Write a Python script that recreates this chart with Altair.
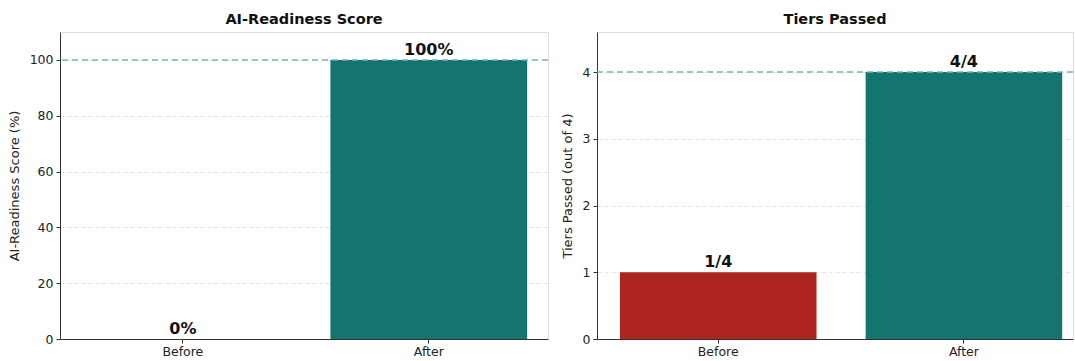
import altair as alt
import pandas as pd

categories = ["Before", "After"]
scores = [0, 100]
score_labels = ["0%", "100%"]
tiers = [1, 4]
tier_labels = ["1/4", "4/4"]
colors = ["#ad2320", "#137470"]
score_target = [100]
tier_target = [4]

FONT = "DejaVu Sans"

df_s = pd.DataFrame({"cat": categories, "val": scores, "lab": score_labels, "col": colors})
df_t = pd.DataFrame({"cat": categories, "val": tiers, "lab": tier_labels, "col": colors})


def panel(df, target, title, ytitle, domain, ticks, width, pad_outer, align):
    xs = alt.X("cat:N", sort=categories, title=None,
               scale=alt.Scale(paddingInner=0.2, paddingOuter=pad_outer, align=align),
               axis=alt.Axis(labelAngle=0, labelFontSize=12.5, labelColor="#222",
                             labelFont=FONT, tickSize=4, tickColor="#333",
                             domainColor="#333", labelPadding=2))
    ys = alt.Y("val:Q", title=ytitle,
               scale=alt.Scale(domain=domain, nice=False, zero=True),
               axis=alt.Axis(values=ticks, format="d", labelFontSize=12.5, labelColor="#222",
                             labelFont=FONT, titleFont=FONT, titleFontSize=13,
                             titleFontWeight="normal", titleColor="#222",
                             tickSize=4, tickColor="#333", domainColor="#333",
                             grid=True, gridDash=[4, 3], gridColor="#e4e4e4",
                             titlePadding=8, labelPadding=3))
    base = alt.Chart(df)
    bars = base.mark_bar().encode(
        x=xs, y=ys,
        color=alt.Color("col:N", scale=None, legend=None),
    )
    text = base.mark_text(baseline="bottom", dy=-2, fontSize=16, fontWeight="bold",
                          font=FONT, color="#111").encode(
        x=alt.X("cat:N", sort=categories), y=alt.Y("val:Q"), text="lab:N")
    rule = alt.Chart(pd.DataFrame({"t": target})).mark_rule(
        strokeDash=[6, 4], color="#74b6b1", strokeWidth=1.5).encode(y=alt.Y("t:Q"))
    return alt.layer(bars, rule, text).properties(
        width=width, height=307,
        title=alt.TitleParams(title, fontSize=14.5, font=FONT, fontWeight="bold",
                              color="#111", offset=5))


left = panel(df_s, score_target, "AI-Readiness Score", "AI-Readiness Score (%)",
             [0, 110], [0, 20, 40, 60, 80, 100], 488, 0.092, 0.54)
right = panel(df_t, tier_target, "Tiers Passed", "Tiers Passed (out of 4)",
              [0, 4.6], [0, 1, 2, 3, 4], 476, 0.0687, 0.68)

chart = alt.hconcat(left, right, spacing=10).properties(
    padding={"left": 7, "top": 11, "right": 0, "bottom": 0}
).configure_view(stroke=None).configure_axisX(grid=False).configure(background="white")

chart.save("out.html", embed_options={"renderer": "svg", "actions": False})
